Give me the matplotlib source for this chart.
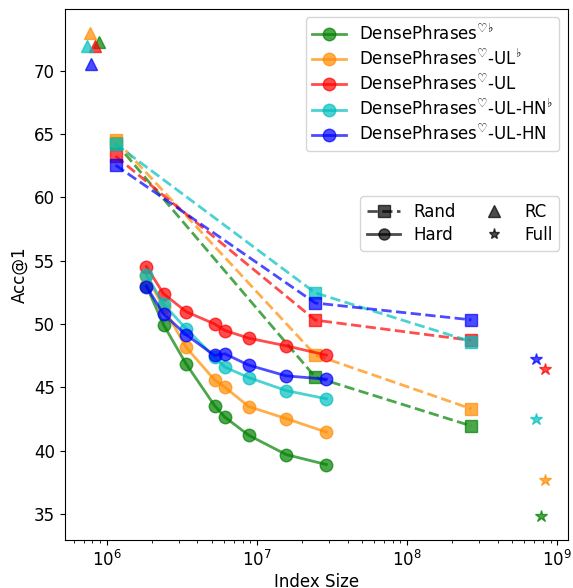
import numpy as np
import matplotlib.pyplot as plt
from matplotlib.lines import Line2D

plt.rcParams['font.size'] = 12

names = [r'DensePhrases$^{\heartsuit\flat}$',
         r'DensePhrases$^{\heartsuit}$-UL$^{\flat}$',
         r'DensePhrases$^{\heartsuit}$-UL',
         r'DensePhrases$^{\heartsuit}$-UL-HN$^{\flat}$',
         r'DensePhrases$^{\heartsuit}$-UL-HN']
colors = ['g', 'darkorange', 'r', 'c', 'b']

# hard negatives (solid lines)
hard_x = [1.83e6, 2.38e6, 3.37e6, 5.2e6, 6.1e6, 8.77e6, 1.56e7, 2.89e7]
hard_y = [
    [53.0, 49.93, 46.83, 43.56, 42.64, 41.22, 39.69, 38.9],
    [53.8, 51.3, 48.14, 45.59, 45.01, 43.48, 42.53, 41.46],
    [54.53, 52.38, 50.96, 50.0, 49.48, 48.88, 48.27, 47.54],
    [53.88, 51.56, 49.61, 47.38, 46.59, 45.77, 44.74, 44.09],
    [52.95, 50.77, 49.14, 47.51, 47.64, 46.75, 45.9, 45.64],
]

# random (dashed lines)
rand_x = [1.14e6, 2.44e7, 2.67e8]
rand_y = [
    [64.3, 45.8, 41.95],
    [64.55, 47.55, 43.3],
    [63.24, 50.3, 48.7],
    [64.2, 52.45, 48.6],
    [62.53, 51.65, 50.32],
]

# RC (triangles)
rc_x = [8.9e5, 7.7e5, 8.3e5, 7.4e5, 7.8e5]
rc_y = [72.24, 72.95, 71.95, 71.95, 70.5]

# Full (stars)
full_x = [7.74e8, 8.24e8, 8.24e8, 7.18e8, 7.18e8]
full_y = [34.85, 37.67, 46.48, 42.49, 47.25]

fig, ax = plt.subplots(figsize=(5.73, 5.88), dpi=100)
fig.subplots_adjust(left=0.1126, right=0.9907, top=0.9847, bottom=0.0816)

handles = []
for i in range(5):
    h, = ax.plot(hard_x, hard_y[i], '-o', color=colors[i], alpha=0.7, lw=2, ms=9)
    handles.append(h)
    ax.plot(rand_x, rand_y[i], '--s', color=colors[i], alpha=0.7, lw=2, ms=9)
    ax.plot(rc_x[i], rc_y[i], '^', color=colors[i], alpha=0.7, ms=9)
    ax.plot(full_x[i], full_y[i], '*', color=colors[i], alpha=0.7, ms=9)

ax.set_xscale('log')
ax.set_xlabel('Index Size', labelpad=2)
ax.set_ylabel('Acc@1')

leg1 = ax.legend(handles, names, loc='upper right', labelspacing=0.3)
ax.add_artist(leg1)

style_handles = [
    Line2D([], [], ls='--', marker='s', color='k', alpha=0.7, lw=2, ms=8),
    Line2D([], [], ls='-', marker='o', color='k', alpha=0.7, lw=2, ms=8),
    Line2D([], [], ls='', marker='^', color='k', alpha=0.7, ms=8),
    Line2D([], [], ls='', marker='*', color='k', alpha=0.7, ms=8),
]
ax.legend(style_handles, ['Rand', 'Hard', 'RC', 'Full'], ncol=2,
          loc='center right', bbox_to_anchor=(1, 0.596),
          labelspacing=0.3, columnspacing=1.3)

plt.savefig('out.png')
